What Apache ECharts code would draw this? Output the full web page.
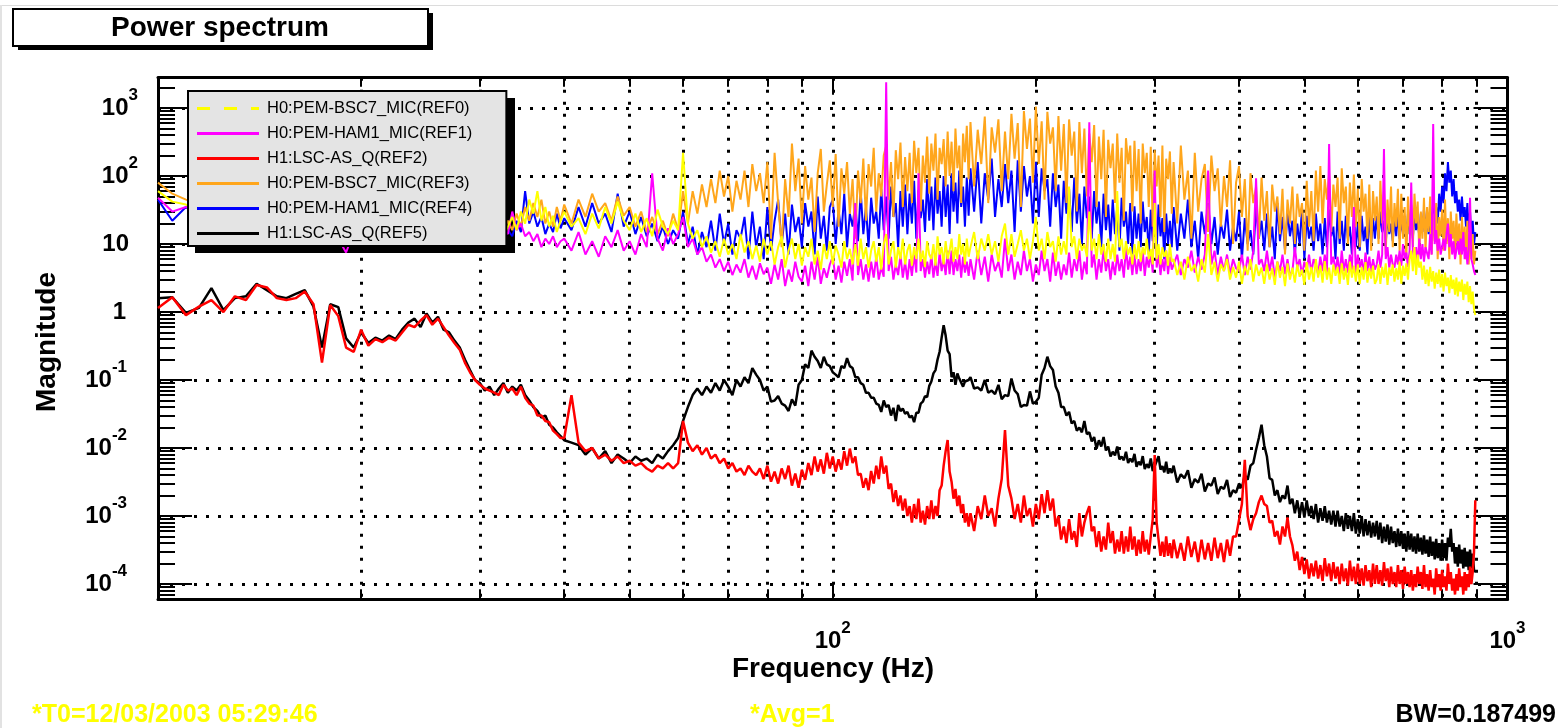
<!DOCTYPE html>
<html>
<head>
<meta charset="utf-8">
<title>Power spectrum</title>
<script src="https://cdn.jsdelivr.net/npm/echarts@6/dist/echarts.min.js"></script>
<style>
  html, body { margin: 0; padding: 0; background: #fff; }
  #main { width: 1558px; height: 728px; }
</style>
</head>
<body>
<div id="main"></div>
<script type="text/javascript">
// frequency bins (Hz), shared by every trace
var freqHz = [
  10,10.5,11,11.5,12,12.5,13,13.5,14,14.5,15,15.5,16,16.5,17,17.5,18,18.5,19,19.5,
  20,20.5,21,21.5,22,22.5,23,23.5,24,24.5,25,25.5,26,26.5,27,27.5,28,28.5,29,29.5,
  30,30.5,31,31.5,32,32.5,33,33.5,34,34.5,35,35.5,36,36.5,37,37.5,38,38.5,39,39.5,
  40,41,42,43,44,45,46,47,48,49,50,51,52,53,54,55,56,57,58,59,
  60,61,62,63,64,65,66,67,68,69,70,71,72,73,74,75,76,77,78,79,
  80,81,82,83,84,85,86,87,88,89,90,91,92,93,94,95,96,97,98,99,
  100,101,102,103,104,105,106,107,108,109,110,111,112,113,114,115,116,117,118,119,
  120,121,122,123,124,125,126,127,128,129,130,131,132,133,134,135,136,137,138,139,
  140,141,142,143,144,145,146,147,148,149,150,151,152,153,154,155,156,157,158,159,
  160,162,164,166,168,170,172,174,176,178,180,182,184,186,188,190,192,194,196,198,
  200,202,204,206,208,210,212,214,216,218,220,222,224,226,228,230,232,234,236,238,
  240,242,244,246,248,250,252,254,256,258,260,262,264,266,268,270,272,274,276,278,
  280,282,284,286,288,290,292,294,296,298,300,302,304,306,308,310,312,314,316,318,
  320,324,328,332,336,340,344,348,352,356,360,364,368,372,376,380,384,388,392,396,
  400,404,408,412,416,420,424,428,432,436,440,444,448,452,456,460,464,468,472,476,
  480,484,488,492,496,500,504,508,512,516,520,524,528,532,536,540,544,548,552,556,
  560,564,568,572,576,580,584,588,592,596,600,604,608,612,616,620,624,628,632,636,
  640,644,648,652,656,660,664,668,672,676,680,684,688,692,696,700,704,708,712,716,
  720,724,728,732,736,740,744,748,752,756,760,764,768,772,776,780,784,788,792,796,
  800,804,808,812,816,820,824,828,832,836,840,844,848,852,856,860,864,868,872,876,
  880,884,888,892,896
];

// H0:PEM-BSC7_MIC(REF0) - yellow
var ref0 = [
  60,42,38,30,35,28,32,25,30,24,28,22,26,20,24,19,22,18,20,17,
  21,17,20,16,19,15,18,14,17,15,20,16,18,14,17,13,16,14,18,15,
  19,14,17,13,16,12.5,18,25,16,30,20,45,28,60,22,35,18,26,15,22,
  30,18,24,14,28,17,35,20,42,22,16,28,15,24,13,32,18,14,22,16,
  220,20,12,16,9,13,7.5,11,6.5,12,7,10,6,14,7.5,11,6,9.5,5.5,12,
  7,11,5,9,13,4.5,8,12,6,10,4.8,9,6.5,12,5,8,4.2,10,6,11,
  5,9.5,7,4.5,11,6,8.5,5,10,4.8,12,6,9,4.5,8,11,5.5,9,4.2,10,
  14,5,8,11,4.5,9,6,12,5,8,10,4.8,9,6,12,5.5,8,4.6,11,7,
  6,10,4.8,13,7,9,5,11,6,8,12,5.5,9,6,14,7,10,5,12,6.5,
  9,15,6,12,8,14,7,11,5.5,13,20,7,14,6.5,10,16,8,12,6,11,
  25,8,12,6,15,9,11,5.5,13,7,11,7,70,9,13,6,12,8,10,6.5,
  30,8,12,6,14,7,10,5.5,12,6,10,5.5,60,9,12,6,11,7,9,5,
  10,6,11,5.5,9,7,12,6,8.5,5,40,6,10,5,9,6.5,8,4.8,10,5.5,
  6,3.5,5.5,3,6.5,4,5,2.8,6,3.8,14,3.5,5.5,2.8,5,4,6,3,4.6,3.2,
  5.5,2.6,4.8,3.5,6,2.8,5,3.4,4.5,2.6,5,3,4.4,2.5,5.5,3.2,4.6,2.4,5.2,3,
  4.5,2.7,5,3.3,4.2,2.5,5.4,3,4.6,2.8,6,3.2,4.8,2.7,5.6,3,4.5,2.6,5,3.4,
  4.6,2.6,5.2,3,4.4,2.5,5.5,3.2,4.8,2.8,5,2.6,4.6,3,5.4,2.7,4.4,3.1,4.8,2.6,
  3,5,2.6,4.6,3.2,5.2,2.5,4.5,3.4,5,2.8,4.4,3,5.5,2.6,4.8,3.4,5.2,3,6,
  8,4,9,3.5,7,4.5,5.5,3,4.8,2.6,4.2,2.4,4.6,2.8,4,2.2,3.8,2.6,4.2,2.3,
  3.6,2,3.8,2.4,3.2,1.9,3.5,2.2,3,1.8,3.2,1.7,2.8,2,3,1.5,2.6,1.8,2.8,1.4,
  2.4,1.3,2,1.1,0.9
];

// H0:PEM-HAM1_MIC(REF1) - magenta
var ref1 = [
  48,30,35,28,32,25,30,22,27,20,24,18,22,17,20,14,18,12,7.5,15,
  13,18,11,16,12,17,10,14,11,16,13,18,12,15,11,14,10,13,9.5,12,
  10,14,11,15,12,17,14,30,16,20,13,15,11,14,9,12,10,13,9,11,
  12,8,15,7,11,6.5,13,9,16,8,11,7,14,9,110,12,8,17,10,14,
  25,9,12,7,9,5.5,7,4.5,6,4,5.5,3.5,5,3.8,6,3.2,4.8,3,5.2,3.6,
  4.5,2.6,5,3,6,2.4,4.2,2.8,5.5,3.3,2.8,4.8,2.4,5.5,3,6.5,2.6,4.4,3.2,5,
  6.5,3,4.8,2.7,5.5,3.4,6,2.9,40,3.5,6,3,5,2.8,5.5,3.2,6.5,3,4.6,3.3,
  2400,4,6.5,3,5,3.5,7,3.2,5.5,3,6,3.4,7,3.8,110,4,6,3.2,5.5,3.6,
  7,3.2,5.5,3.4,7.5,4,6,3.5,8,3.6,8,3.5,6,4,7,3.2,6.5,3.8,5.5,3.4,
  6,3,8,3.5,6.5,2.8,7,4,5.5,3.2,12,4,7,3,5.5,3.5,8,4,6,2.8,
  5,3.5,8,4,6,2.8,7.5,3.4,5.5,3,5,3.5,7.5,3.2,6,4,8,3,5.5,3.6,
  620,4.5,7,3,6,3.8,8.5,4,6,3,5.5,3.5,7,4,6,3.2,9,4.2,6.5,3.5,
  7,3.6,6,4,8,3.4,6.5,4.5,7.5,3.8,120,4.5,7,3.5,6,4,8,3.6,6.5,4.2,
  4,7,3.5,6,4.5,8,3.8,6.5,4.2,7,120,5,8,3.5,6.5,4,7,3.6,6,4.4,
  4,7,3.5,6.5,4.2,8,93,5,6,4,8,4,6.5,3.2,5.5,4,7,3.6,6,3.4,
  4,9,4.5,6,3.5,5.5,4,7,3.8,6,5,3.6,6.5,4,7,3.8,295,5,6.5,4,
  6.5,3.5,8,4,6,3.8,7,4.2,35,3.5,7,4.5,6,3.6,7.5,4,6.5,3.8,6,4.2,
  5,8,4.5,7,250,6,9,4.5,7,5,4.5,7,5,8,4.8,10,6,7.5,4.6,8,
  80,8,5.5,9,5,12,6,10,5.5,9,9,6,14,7,580,10,16,8,12,7,
  7,12,8,14,20,9,14,7,11,6,6,11,7,12,7,15,6,9,5,8,
  48,6,5,4,3.5
];

// H1:LSC-AS_Q(REF2) - red
var ref2 = [
  1.15,1.65,0.9,1.2,1.5,1.0,1.7,1.5,2.5,2.3,1.6,1.5,1.6,2.0,1.3,0.18,1.27,0.87,0.3,0.26,
  0.55,0.32,0.4,0.36,0.42,0.38,0.5,0.65,0.6,0.75,0.9,0.65,0.8,0.6,0.45,0.35,0.28,0.18,0.13,0.1,
  0.085,0.075,0.07,0.065,0.06,0.085,0.07,0.075,0.06,0.08,0.055,0.045,0.042,0.03,0.03,0.025,0.024,0.018,0.016,0.014,
  0.014,0.06,0.012,0.009,0.01,0.007,0.008,0.0065,0.0075,0.006,0.0065,0.0055,0.006,0.005,0.0045,0.0055,0.005,0.006,0.005,0.006,
  0.025,0.012,0.009,0.011,0.008,0.01,0.007,0.008,0.006,0.007,0.005,0.006,0.0045,0.005,0.004,0.0055,0.0045,0.004,0.005,0.0035,
  0.0055,0.0032,0.0045,0.003,0.005,0.0035,0.0055,0.0028,0.0042,0.0026,0.0048,0.0034,0.006,0.004,0.0075,0.0045,0.0068,0.0042,0.0085,0.005,
  0.0075,0.0045,0.0068,0.0048,0.009,0.0055,0.0098,0.006,0.0075,0.004,0.0042,0.0026,0.0036,0.0024,0.0046,0.003,0.0055,0.0035,0.0075,0.0042,
  0.0055,0.0025,0.003,0.0016,0.0024,0.0014,0.002,0.0012,0.0018,0.001,0.0014,0.0008,0.0015,0.0009,0.0018,0.0008,0.0012,0.00075,0.0014,0.0009,
  0.0017,0.0009,0.0014,0.001,0.0024,0.0028,0.0055,0.009,0.0131,0.0045,0.0032,0.0018,0.0025,0.0014,0.002,0.0011,0.0015,0.0008,0.0011,0.0007,
  0.0011,0.0006,0.0014,0.0009,0.002,0.001,0.0013,0.0007,0.0018,0.0035,0.0184,0.0028,0.0018,0.0009,0.0015,0.0008,0.002,0.001,0.0013,0.0007,
  0.0015,0.0009,0.0021,0.0011,0.0024,0.0012,0.0018,0.0007,0.001,0.00045,0.0007,0.0004,0.0009,0.00045,0.0006,0.00035,0.0011,0.0005,0.0008,0.0011,
  0.0014,0.0006,0.0007,0.00035,0.0006,0.0003,0.0005,0.00032,0.0008,0.0004,0.0006,0.00028,0.00045,0.0003,0.0006,0.00028,0.0005,0.0003,0.0007,0.00032,
  0.0005,0.00026,0.00045,0.00028,0.0006,0.0003,0.00045,0.00027,0.0005,0.0009,0.0079,0.0008,0.00045,0.00026,0.00042,0.00025,0.0005,0.00026,0.0004,0.00024,
  0.00045,0.00024,0.0004,0.00022,0.0005,0.00025,0.00042,0.00021,0.00045,0.00023,0.0004,0.00022,0.00048,0.00024,0.0004,0.00021,0.00045,0.00026,0.0005,0.0005,
  0.00087,0.0015,0.0067,0.001,0.00062,0.0009,0.0011,0.0016,0.002,0.0015,0.0014,0.0008,0.00085,0.0005,0.0006,0.00038,0.0007,0.0005,0.00095,0.0005,
  0.00037,0.00022,0.0003,0.00016,0.00025,0.00014,0.00023,0.00012,0.0002,0.00013,0.00022,0.00012,0.00019,0.00011,0.00024,0.00013,0.0002,0.00011,0.00021,0.00012,
  0.00018,0.0001,0.0002,0.00011,0.00017,0.000095,0.00022,0.00011,0.00018,0.0001,0.0002,0.0001,0.00017,0.000095,0.00019,0.00011,0.00016,0.00009,0.0002,0.0001,
  0.00019,0.0001,0.00016,0.000095,0.00021,0.00011,0.00017,0.00009,0.00018,0.0001,0.00015,0.00009,0.00019,0.0001,0.00016,0.000085,0.00018,0.0001,0.00015,0.00009,
  0.00016,0.00008,0.00014,0.00009,0.00018,0.0001,0.00015,0.000085,0.00019,0.00009,0.00014,0.00008,0.00016,0.00009,0.00012,0.00007,0.00017,0.00009,0.00014,0.00008,
  0.00016,0.00009,0.00013,0.00008,0.0002,0.0001,0.00015,0.00008,0.00012,0.00007,0.00014,0.00008,0.00017,0.00009,0.00013,0.00007,0.00015,0.00008,0.00014,0.00009,
  0.00018,0.0001,0.00015,0.0003,0.0017
];

// H0:PEM-BSC7_MIC(REF3) - orange
var ref3 = [
  80,55,45,38,42,30,36,28,34,26,32,24,30,22,28,20,26,21,25,19,
  24,18,22,17,21,16,20,15,19,16,22,17,20,15,19,14,18,15,20,16,
  21,15,19,14,18,15,22,16,28,18,35,22,40,25,45,20,30,18,35,22,
  38,20,45,25,55,30,40,22,50,26,35,18,30,15,25,14,22,13,28,16,
  60,20,60,28,75,35,90,40,120,50,100,30,85,45,120,35,150,60,110,40,
  160,12,220,40,9,90,25,300,60,180,20,140,45,95,15,110,250,30,75,170,
  35,210,18,130,55,160,28,90,12,120,40,180,22,150,70,260,30,110,50,200,
  280,45,160,25,240,90,310,35,190,60,220,40,330,110,260,30,200,80,380,55,
  300,120,420,45,260,150,350,70,450,100,320,60,500,130,280,40,420,160,550,90,
  620,70,480,150,750,40,520,220,680,60,450,90,820,180,600,35,900,250,700,80,
  1050,150,640,45,880,300,520,60,760,120,580,40,680,200,450,30,620,110,500,50,
  420,160,560,35,380,90,480,25,340,130,300,40,420,80,260,22,360,150,280,30,
  330,60,250,20,300,110,220,35,270,18,240,70,200,25,280,15,180,90,230,28,
  160,20,280,45,120,12,220,30,90,150,15,200,60,130,18,100,35,170,10,80,
  140,25,90,8,110,40,70,12,95,22,60,9,75,30,50,14,65,7,45,20,
  70,10,55,25,40,8,85,18,60,11,120,30,140,20,90,45,110,15,75,35,
  95,12,130,40,70,10,80,25,105,18,65,9,90,30,55,12,75,8,60,22,
  50,10,85,20,60,7,45,15,70,9,40,18,65,8,55,12,35,6,50,14,
  38,9,55,20,42,7,30,12,48,8,35,15,50,7,28,11,40,6,25,13,
  32,8,45,10,24,6,30,12,22,7,28,9,20,5,25,8,18,6,22,5,
  18,6,14,5,8
];

// H0:PEM-HAM1_MIC(REF4) - blue
var ref4 = [
  45,22,35,25,30,22,28,20,26,19,25,18,24,17,22,16,21,15,20,14,
  19,14,18,13,17,12,16,12,15,11,16,12,15,11,14,10,14,11,15,12,
  16,12,15,11,14,12,16,13,22,15,60,20,30,18,25,14,20,15,28,17,
  24,16,35,18,40,20,28,15,55,18,30,14,25,13,20,11,18,10,16,12,
  30,10,18,7,15,9,22,8,28,10,20,7,16,12,25,6,30,9,18,6,
  35,8,22,45,10,28,7,38,15,25,9,40,18,30,7,50,12,26,8,35,
  45,10,32,14,55,9,28,18,40,11,60,14,35,9,48,20,30,12,65,16,
  50,12,70,25,40,9,60,18,75,14,55,20,85,12,62,24,45,15,90,22,
  70,16,95,28,60,18,100,25,75,14,110,30,80,20,120,35,70,18,95,26,
  130,30,160,20,110,45,180,25,90,35,150,40,120,15,170,30,140,50,100,20,
  160,25,130,60,90,18,110,35,75,12,85,28,65,15,95,20,55,10,70,24,
  50,12,60,20,42,9,55,16,38,11,45,14,35,8,48,18,30,10,40,7,
  36,12,28,9,42,15,25,7,32,11,30,8,38,13,24,6,28,10,22,9,
  35,8,28,12,45,9,22,6,30,14,40,10,25,7,20,12,32,8,18,11,
  30,6,24,10,16,7,35,12,22,8,28,9,18,6,40,11,25,8,30,13,
  22,7,20,10,34,6,26,12,18,8,28,11,20,7,24,9,32,13,18,6,
  30,10,22,8,26,12,18,7,28,9,20,8,26,11,18,7,30,10,24,12,
  26,12,30,15,22,10,28,14,20,11,24,13,30,12,22,15,26,11,28,14,
  24,12,30,16,22,13,28,15,32,18,26,14,30,18,40,22,35,20,55,30,
  70,40,110,60,160,80,120,50,90,40,60,30,45,22,50,25,35,18,40,15,
  30,12,22,10,15
];

// H1:LSC-AS_Q(REF5) - black
var ref5 = [
  1.6,1.65,0.97,1.15,2.25,1.07,1.6,1.7,2.6,2.1,1.7,1.6,1.85,2.1,1.2,0.3,1.3,1.18,0.41,0.3,
  0.5,0.35,0.42,0.38,0.45,0.4,0.55,0.7,0.8,0.6,0.95,0.7,0.85,0.55,0.5,0.38,0.3,0.2,0.14,0.1,
  0.09,0.07,0.08,0.06,0.075,0.09,0.065,0.08,0.07,0.085,0.06,0.05,0.04,0.035,0.028,0.03,0.022,0.02,0.017,0.015,
  0.013,0.012,0.011,0.008,0.01,0.007,0.009,0.006,0.008,0.007,0.006,0.0075,0.0065,0.007,0.006,0.008,0.007,0.009,0.011,0.014,
  0.025,0.04,0.06,0.075,0.06,0.08,0.065,0.09,0.07,0.1,0.08,0.06,0.1,0.08,0.11,0.09,0.15,0.12,0.1,0.07,
  0.08,0.048,0.05,0.058,0.045,0.042,0.035,0.052,0.042,0.085,0.1,0.17,0.15,0.27,0.22,0.19,0.15,0.22,0.17,0.16,
  0.13,0.12,0.11,0.16,0.15,0.21,0.16,0.15,0.11,0.11,0.09,0.085,0.065,0.065,0.055,0.055,0.045,0.043,0.034,0.05,
  0.04,0.043,0.03,0.039,0.025,0.043,0.035,0.038,0.032,0.034,0.028,0.03,0.024,0.033,0.033,0.045,0.048,0.058,0.056,0.082,
  0.095,0.125,0.14,0.2,0.26,0.42,0.64,0.45,0.27,0.24,0.11,0.13,0.085,0.125,0.105,0.105,0.08,0.095,0.09,0.1,
  0.11,0.075,0.078,0.07,0.1,0.065,0.07,0.062,0.085,0.052,0.06,0.058,0.105,0.07,0.062,0.04,0.043,0.042,0.068,0.045,
  0.048,0.055,0.12,0.15,0.22,0.16,0.14,0.08,0.065,0.04,0.04,0.03,0.034,0.023,0.025,0.018,0.02,0.017,0.025,0.016,
  0.017,0.0125,0.0145,0.0098,0.013,0.0105,0.0145,0.0092,0.0105,0.0075,0.0088,0.0078,0.0105,0.0068,0.0075,0.0066,0.0088,0.006,0.007,0.0062,
  0.0082,0.0053,0.0063,0.0056,0.0076,0.0049,0.0058,0.0051,0.007,0.0046,0.0054,0.0051,0.0076,0.0048,0.0054,0.0044,0.0063,0.0042,0.005,0.0043,
  0.0055,0.0031,0.0041,0.0036,0.0047,0.0026,0.0035,0.0031,0.0042,0.0023,0.003,0.0028,0.0037,0.0021,0.0027,0.0025,0.0034,0.0019,0.0024,0.0022,
  0.003,0.0026,0.004,0.0034,0.0055,0.006,0.0094,0.014,0.022,0.011,0.0075,0.0036,0.0034,0.002,0.0024,0.0016,0.002,0.0018,0.0028,0.0015,
  0.0018,0.0011,0.0017,0.001,0.0016,0.00095,0.0017,0.001,0.0014,0.0009,0.0015,0.0008,0.0013,0.00085,0.0014,0.0008,0.0012,0.00075,0.0012,0.0007,
  0.0012,0.0007,0.001,0.0006,0.0011,0.00065,0.001,0.0006,0.0011,0.00055,0.0009,0.00055,0.001,0.0005,0.0009,0.00052,0.00085,0.00048,0.0008,0.0005,
  0.00085,0.00045,0.0008,0.0004,0.0007,0.00042,0.00075,0.00038,0.0007,0.0004,0.0006,0.00035,0.00065,0.00036,0.0006,0.00033,0.00055,0.0003,0.0006,0.00032,
  0.00055,0.0003,0.0005,0.00028,0.00055,0.0003,0.00048,0.00027,0.00052,0.00028,0.00045,0.00025,0.0005,0.00026,0.00042,0.00023,0.00046,0.00024,0.0004,0.00022,
  0.00045,0.00024,0.0004,0.00022,0.00048,0.00035,0.00065,0.0003,0.0004,0.0002,0.00035,0.00018,0.00038,0.0002,0.00032,0.00017,0.00034,0.00018,0.0003,0.00016,
  0.00032,0.00017,0.00028,0.00016,0.00015
];

var names = ['H0:PEM-BSC7_MIC(REF0)', 'H0:PEM-HAM1_MIC(REF1)', 'H1:LSC-AS_Q(REF2)',
             'H0:PEM-BSC7_MIC(REF3)', 'H0:PEM-HAM1_MIC(REF4)', 'H1:LSC-AS_Q(REF5)'];
var colors = ['#ffff00', '#ff00ff', '#ff0000', '#ffa61c', '#0000ff', '#000000'];
var traces = [ref0, ref1, ref2, ref3, ref4, ref5];
var widths = [2, 2, 2.5, 2, 2, 2.5];

// axis tick positions (log10 of Hz / magnitude)
var xDecades = [1, 2, 3];
var xMinor = [10,20,30,40,50,60,70,80,90,100,200,300,400,500,600,700,800,900,1000].map(Math.log10);
var yDecades = [-4, -3, -2, -1, 0, 1, 2, 3];
var yMinor = [];
for (var n = -5; n <= 3; n++) {
    for (var k = 2; k <= 9; k++) yMinor.push(n + Math.log10(k));
}
var yMin = -4.225, yMax = 3.446;

var FONT = '"Liberation Sans", Arial, Helvetica, sans-serif';
var rich = {
    b:   { fontSize: 24, fontWeight: 'bold', fontFamily: FONT, color: '#000', lineHeight: 42 },
    s:   { fontSize: 17, fontWeight: 'bold', fontFamily: FONT, color: '#000', lineHeight: 20, verticalAlign: 'top' },
    sn:  { fontSize: 17, fontWeight: 'bold', fontFamily: FONT, color: '#000', lineHeight: 20, verticalAlign: 'top', padding: [0, 11, 0, 0] },
    one: { fontSize: 24, fontWeight: 'bold', fontFamily: FONT, color: '#000', lineHeight: 42, padding: [0, 12, 0, 0] },
    ten: { fontSize: 24, fontWeight: 'bold', fontFamily: FONT, color: '#000', lineHeight: 42, padding: [0, 9, 0, 0] }
};
var dotted = { color: '#000', width: 3, type: [3, 9] };
var frame = { show: true, onZero: false, lineStyle: { color: '#000', width: 3 } };
var noLine = { show: false, onZero: false };

function tickAxis(pos, vals, len, line) {
    var horiz = pos === 'top' || pos === 'bottom';
    return {
        type: 'value', position: pos, min: horiz ? 1 : yMin, max: horiz ? 3 : yMax,
        axisLine: line ? frame : noLine,
        axisTick: { show: true, inside: true, length: len, customValues: vals, lineStyle: { color: '#000', width: 2 } },
        axisLabel: { show: false },
        splitLine: { show: false }
    };
}

var xMain = tickAxis('bottom', xMinor, 10, true);
xMain.splitLine = { show: true, lineStyle: dotted };
xMain.axisLabel = {
    show: true, customValues: [2, 3], margin: 21, rich: rich,
    formatter: function (v) { return '{b|10}{s|' + Math.round(v) + '}'; }
};

var yMain = tickAxis('left', yDecades, 34, true);
yMain.splitLine = { show: true, lineStyle: dotted };
yMain.axisLabel = {
    show: true, customValues: yDecades, margin: 20, align: 'right', rich: rich,
    formatter: function (v) {
        var e = Math.round(v);
        if (e === 0) return '{one|1}';
        if (e === 1) return '{ten|10}';
        return '{b|10}{' + (e < 0 ? 'sn' : 's') + '|' + e + '}';
    }
};

// draw order: REF5 first, REF0 on top
var series = [];
[5, 4, 3, 2, 1, 0].forEach(function (i) {
    series.push({
        name: names[i],
        type: 'line',
        xAxisIndex: 0,
        yAxisIndex: 0,
        symbol: 'none',
        showSymbol: false,
        silent: true,
        animation: false,
        lineStyle: { color: colors[i], width: widths[i] },
        itemStyle: { color: colors[i] },
        data: freqHz.map(function (f, j) { return [Math.log10(f), Math.log10(traces[i][j])]; })
    });
});

var dashIcon = 'path://M0,0h13v3h-13z M27,0h13v3h-13z M54,0h8v3h-8z';

var myChart = echarts.init(document.getElementById('main'));
var option = {
    backgroundColor: '#fff',
    animation: false,
    grid: { left: 158, right: 50.5, top: 77.7, bottom: 128.7, containLabel: false, outerBoundsMode: 'none' },
    xAxis: [
        xMain,
        tickAxis('bottom', xDecades, 17, false),
        tickAxis('top', xMinor, 9, true),
        tickAxis('top', xDecades, 17, false)
    ],
    yAxis: [
        yMain,
        tickAxis('left', yMinor, 17, false),
        tickAxis('right', yDecades, 34, true),
        tickAxis('right', yMinor, 17, false)
    ],
    legend: {
        show: true, orient: 'vertical', left: 188, top: 91, selectedMode: false,
        itemWidth: 62, itemHeight: 3, itemGap: 0,
        padding: [5, 34, 0, 9],
        backgroundColor: '#e4e4e4', borderColor: '#000', borderWidth: 2,
        textStyle: { fontFamily: FONT, fontSize: 16.5, color: '#000', lineHeight: 25, padding: [0, 0, 0, 3] },
        data: names.map(function (nm, i) {
            return { name: nm, icon: i === 0 ? dashIcon : 'rect' };
        })
    },
    graphic: [
        { type: 'rect', shape: { x: 0, y: 5, width: 1558, height: 1 }, style: { fill: '#dcdcdc' }, silent: true },
        { type: 'rect', shape: { x: 0, y: 5, width: 2, height: 723 }, style: { fill: '#e2e2e2' }, silent: true },
        // legend drop shadow
        { type: 'rect', shape: { x: 195, y: 98, width: 320, height: 155 }, style: { fill: '#000' }, z: 3, silent: true },
        // title box with drop shadow
        { type: 'rect', shape: { x: 18, y: 13, width: 415, height: 37 }, style: { fill: '#000' }, z: 10, silent: true },
        { type: 'rect', shape: { x: 13, y: 9, width: 415, height: 37 }, style: { fill: '#fff', stroke: '#000', lineWidth: 2 }, z: 11, silent: true },
        {
            type: 'text', x: 220, y: 28, z: 12,
            style: { text: 'Power spectrum', font: 'bold 28px ' + FONT, fill: '#000', align: 'center', verticalAlign: 'middle' }
        },
        {
            type: 'text', x: 47, y: 342, rotation: Math.PI / 2,
            style: { text: 'Magnitude', font: 'bold 28px ' + FONT, fill: '#000', align: 'center', verticalAlign: 'middle' }
        },
        {
            type: 'text', x: 833, y: 669,
            style: { text: 'Frequency (Hz)', font: 'bold 28px ' + FONT, fill: '#000', align: 'center', verticalAlign: 'middle' }
        },
        {
            type: 'text', x: 32, y: 715,
            style: { text: '*T0=12/03/2003 05:29:46', font: 'bold 25px ' + FONT, fill: '#ffff00', align: 'left', verticalAlign: 'middle' }
        },
        {
            type: 'text', x: 750, y: 715,
            style: { text: '*Avg=1', font: 'bold 25px ' + FONT, fill: '#ffff00', align: 'left', verticalAlign: 'middle' }
        },
        {
            type: 'text', x: 1556, y: 715,
            style: { text: 'BW=0.187499', font: 'bold 25px ' + FONT, fill: '#000', align: 'right', verticalAlign: 'middle' }
        }
    ],
    series: series
};

myChart.setOption(option);
</script>
</body>
</html>
